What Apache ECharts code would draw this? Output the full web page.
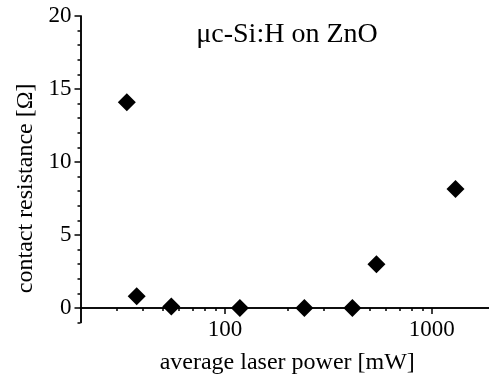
<!DOCTYPE html>
<html>
<head>
<meta charset="utf-8">
<script src="https://cdn.jsdelivr.net/npm/echarts@6/dist/echarts.min.js"></script>
<style>
  html, body { margin: 0; padding: 0; background: #fff; }
  #chart { width: 489px; height: 380px; }
</style>
</head>
<body>
<div id="chart"></div>
<script>
// laser power [mW] vs contact resistance [Ohm]
const power = [33.5, 37.4, 55, 118, 242, 413, 540, 1303];
const resistance = [14.1, 0.8, 0.1, 0.0, 0.0, 0.0, 3.0, 8.15];

const xMajor = [100, 1000];
const xMinor = [30, 40, 50, 60, 70, 80, 90, 200, 300, 400, 500, 600, 700, 800, 900, 2000];
const yMajor = [0, 5, 10, 15, 20];
const yMinor = [-1, 1, 2, 3, 4, 6, 7, 8, 9, 11, 12, 13, 14, 16, 17, 18, 19];

const font = "Liberation Serif";
const chart = echarts.init(document.getElementById("chart"));

const baseX = {
  type: "log",
  logBase: 10,
  min: 20,
  max: 2000,
  position: "bottom",
  axisLine: { show: true, onZero: true, onZeroAxisIndex: 0, lineStyle: { color: "#000", width: 1.5 } },
  splitLine: { show: false },
  minorTick: { show: false },
};
const baseY = {
  type: "value",
  min: -1,
  max: 20,
  position: "left",
  axisLine: { show: true, onZero: false, lineStyle: { color: "#000", width: 1.5 } },
  splitLine: { show: false },
};

chart.setOption({
  animation: false,
  backgroundColor: "#fff",
  grid: { left: 80.5, right: -5, top: 16, bottom: 57.4, containLabel: false, outerBoundsMode: "none" },
  xAxis: [
    {
      ...baseX,
      name: "average laser power [mW]",
      nameLocation: "middle",
      nameGap: 28,
      nameTextStyle: { fontFamily: font, fontSize: 24, color: "#000" },
      axisTick: { show: true, inside: false, length: 6, customValues: xMajor, lineStyle: { color: "#000", width: 1.5 } },
      axisLabel: { customValues: xMajor, margin: -4, fontFamily: font, fontSize: 23, color: "#000", formatter: (v) => String(v) },
    },
    {
      ...baseX,
      axisTick: { show: true, inside: false, length: 3, customValues: xMinor, lineStyle: { color: "#000", width: 1.5 } },
      axisLabel: { show: false },
    },
  ],
  yAxis: [
    {
      ...baseY,
      name: "contact resistance [Ω]",
      nameLocation: "middle",
      nameGap: 43,
      nameTextStyle: { fontFamily: font, fontSize: 24, color: "#000", padding: [0, 38, 0, 0] },
      axisTick: { show: true, inside: false, length: 6, customValues: yMajor, lineStyle: { color: "#000", width: 1.5 } },
      axisLabel: { customValues: yMajor, margin: 9, fontFamily: font, fontSize: 23, color: "#000" },
    },
    {
      ...baseY,
      axisTick: { show: true, inside: false, length: 3, customValues: yMinor, lineStyle: { color: "#000", width: 1.5 } },
      axisLabel: { show: false },
    },
  ],
  graphic: [
    {
      type: "text",
      x: 287,
      y: 35,
      style: { text: "μc-Si:H on ZnO", fontFamily: font, fontSize: 28, fill: "#000", align: "center", verticalAlign: "middle" },
    },
  ],
  series: [
    {
      type: "scatter",
      xAxisIndex: 0,
      yAxisIndex: 0,
      symbol: "diamond",
      symbolSize: 18,
      itemStyle: { color: "#000", opacity: 1 },
      data: power.map((p, i) => [p, resistance[i]]),
      clip: false,
    },
  ],
});
</script>
</body>
</html>
